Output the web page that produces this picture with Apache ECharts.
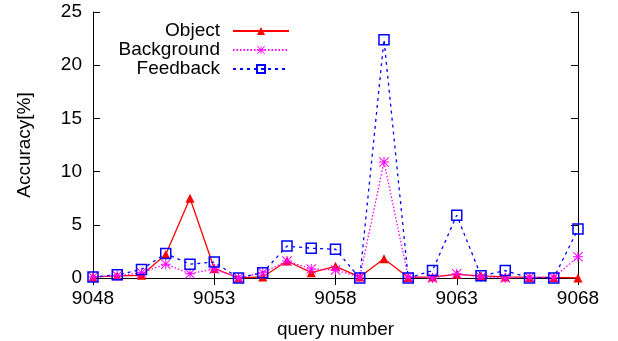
<!DOCTYPE html>
<html>
<head>
<meta charset="utf-8">
<script src="https://cdn.jsdelivr.net/npm/echarts@6/dist/echarts.min.js"></script>
<style>
html,body{margin:0;padding:0;background:#fff;}
#c{width:618px;height:341px;}
</style>
</head>
<body>
<div id="c"></div>
<script>
const categories = ['9048','9049','9050','9051','9052','9053','9054','9055','9056','9057','9058','9059','9060','9061','9062','9063','9064','9065','9066','9067','9068'];
const objectVals = [0.1,0.2,0.25,2.2,7.5,0.9,0.0,0.1,1.6,0.5,1.1,0.1,1.8,0.05,0.1,0.35,0.2,0.1,0.05,0.05,0.0];
const backgroundVals = [0.1,0.2,0.5,1.3,0.4,0.85,0.0,0.5,1.6,0.85,0.75,0.1,10.9,0.1,0.0,0.4,0.1,0.0,0.05,0.05,2.0];
const feedbackVals = [0.1,0.3,0.8,2.3,1.3,1.5,0.0,0.5,3.0,2.8,2.7,0.0,22.4,0.0,0.7,5.9,0.2,0.7,0.0,0.0,4.6];
const yTicks = {min:0, max:25, interval:5};

const FONT = 'Liberation Sans';
const FS = 19;
const asterisk = 'path://M0 9L20 9L20 11L0 11Z M9 0L11 0L11 20L9 20Z M1.4 0L20 18.6L18.6 20L0 1.4Z M18.6 0L20 1.4L1.4 20L0 18.6Z';
const tickEvery5 = function(i){ return i % 5 === 0; };

const chart = echarts.init(document.getElementById('c'), null, {renderer:'canvas'});

function legend(name, top){
  return {
    data:[{name:name}], orient:'vertical', right:328, top:top, align:'right',
    itemWidth:56, itemHeight:10, padding:0, itemGap:0,
    textStyle:{fontFamily:FONT, fontSize:FS, color:'#000', padding:[0,8,0,0]},
    selectedMode:false
  };
}

chart.setOption({
  animation:false,
  backgroundColor:'#fff',
  textStyle:{fontFamily:FONT},
  grid:{left:93, right:40, top:12, bottom:63, containLabel:false, outerBoundsMode:'none'},
  legend:[legend('Object',21.5), legend('Background',40.5), legend('Feedback',59.5)],
  xAxis:[{
    type:'category', data:categories, boundaryGap:false, position:'bottom',
    axisLine:{show:true, lineStyle:{color:'#000', width:1}},
    axisTick:{show:true, inside:true, length:7, interval:tickEvery5, lineStyle:{color:'#000'}},
    axisLabel:{interval:tickEvery5, fontSize:FS, color:'#000', fontFamily:FONT, margin:11},
    splitLine:{show:false},
    name:'query number', nameLocation:'middle', nameGap:42,
    nameTextStyle:{fontSize:FS, color:'#000', fontFamily:FONT}
  },{
    type:'category', data:categories, boundaryGap:false, position:'top',
    axisLine:{show:true, lineStyle:{color:'#000', width:1}},
    axisTick:{show:true, inside:true, length:7, interval:tickEvery5, lineStyle:{color:'#000'}},
    axisLabel:{show:false}, splitLine:{show:false}
  }],
  yAxis:[{
    type:'value', min:yTicks.min, max:yTicks.max, interval:yTicks.interval, position:'left',
    axisLine:{show:true, lineStyle:{color:'#000', width:1}},
    axisTick:{show:true, inside:true, length:7, lineStyle:{color:'#000'}},
    axisLabel:{fontSize:FS, color:'#000', fontFamily:FONT, margin:11},
    splitLine:{show:false},
    name:'Accuracy[%]', nameLocation:'middle', nameGap:59,
    nameTextStyle:{fontSize:FS, color:'#000', fontFamily:FONT}
  },{
    type:'value', min:yTicks.min, max:yTicks.max, interval:yTicks.interval, position:'right',
    axisLine:{show:true, lineStyle:{color:'#000', width:1}},
    axisTick:{show:true, inside:true, length:7, lineStyle:{color:'#000'}},
    axisLabel:{show:false}, splitLine:{show:false}
  }],
  series:[{
    name:'Object', type:'line', data:objectVals, xAxisIndex:0, yAxisIndex:0,
    symbol:'triangle', symbolSize:9, showAllSymbol:true,
    lineStyle:{color:'#ff0000', width:1.3, type:'solid'},
    itemStyle:{color:'#ff0000'}
  },{
    name:'Background', type:'line', data:backgroundVals, xAxisIndex:0, yAxisIndex:0,
    symbol:asterisk, symbolSize:10, showAllSymbol:true,
    lineStyle:{color:'#ff00ff', width:1.3, type:[1.5,2]},
    itemStyle:{color:'#ff00ff'}
  },{
    name:'Feedback', type:'line', data:feedbackVals, xAxisIndex:0, yAxisIndex:0,
    symbol:'rect', symbolSize:10, showAllSymbol:true,
    lineStyle:{color:'#0000ff', width:1.3, type:[3,4]},
    itemStyle:{color:'rgba(0,0,0,0)', borderColor:'#0000ff', borderWidth:1.5}
  }]
});
</script>
</body>
</html>
